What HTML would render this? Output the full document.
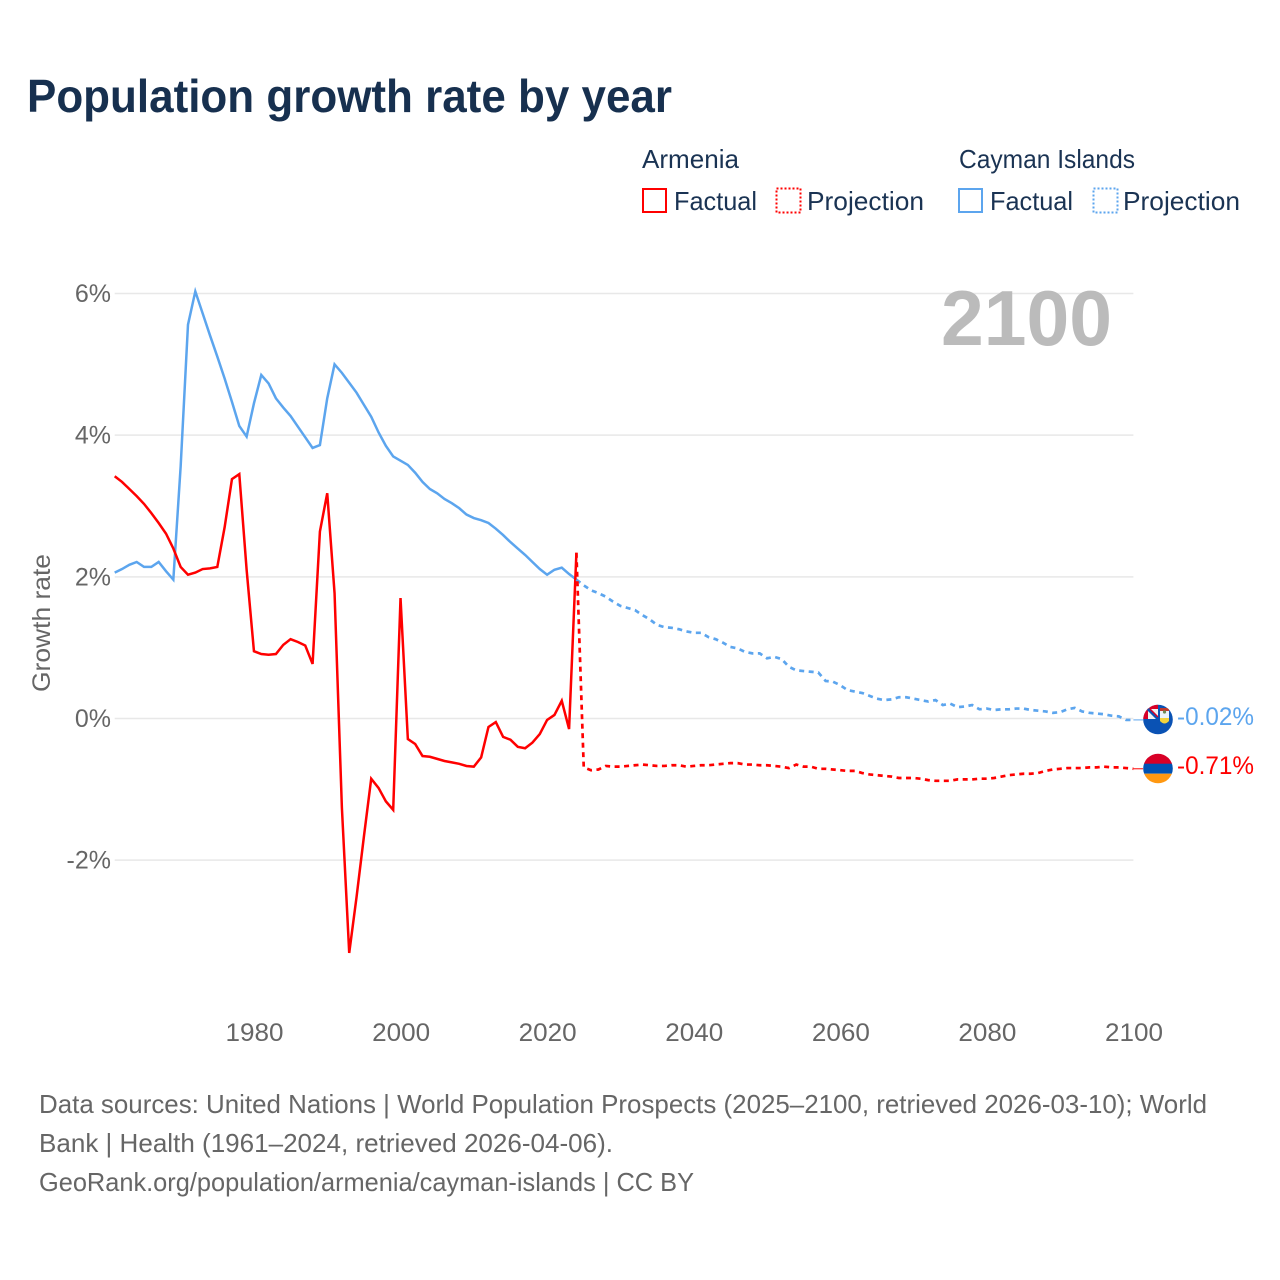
<!DOCTYPE html>
<html lang="en">
<head>
<meta charset="utf-8">
<title>Population growth rate by year</title>
<style>
html,body{margin:0;padding:0;background:#fff;}
svg{display:block;}
text{font-family:"Liberation Sans",sans-serif;}
</style>
</head>
<body>
<svg id="chart" xmlns="http://www.w3.org/2000/svg" width="1280" height="1280" viewBox="0 0 1280 1280">
  <rect x="0" y="0" width="1280" height="1280" fill="#fff"/>
  <text x="27" y="112" font-size="46" font-weight="700" fill="#17304f" textLength="645" lengthAdjust="spacingAndGlyphs">Population growth rate by year</text>

  <g font-size="26" fill="#1a3353">
    <text x="642" y="168" textLength="97" lengthAdjust="spacingAndGlyphs">Armenia</text>
    <text x="959" y="168" textLength="176" lengthAdjust="spacingAndGlyphs">Cayman Islands</text>
    <rect x="643" y="189" width="23" height="23" fill="none" stroke="#ff0000" stroke-width="2"/>
    <text x="674" y="210" textLength="83" lengthAdjust="spacingAndGlyphs">Factual</text>
    <rect x="776.5" y="188.5" width="24" height="24" fill="none" stroke="#ff0000" stroke-width="2" stroke-dasharray="2 2"/>
    <text x="807" y="210" textLength="117" lengthAdjust="spacingAndGlyphs">Projection</text>
    <rect x="959" y="189" width="23" height="23" fill="none" stroke="#5ca5ee" stroke-width="2"/>
    <text x="990" y="210" textLength="83" lengthAdjust="spacingAndGlyphs">Factual</text>
    <rect x="1093.5" y="188.5" width="24" height="24" fill="none" stroke="#5ca5ee" stroke-width="2" stroke-dasharray="2 2"/>
    <text x="1123" y="210" textLength="117" lengthAdjust="spacingAndGlyphs">Projection</text>
  </g>

  <g id="grid"></g>
  <g id="y-ticks"></g>
  <g id="x-ticks"></g>

  <text transform="translate(50,692) rotate(-90)" x="0" y="0" font-size="25" fill="#666" textLength="138" lengthAdjust="spacingAndGlyphs">Growth rate</text>
  <text x="941" y="345" font-size="78" font-weight="700" fill="#bbbbbb" textLength="171" lengthAdjust="spacingAndGlyphs">2100</text>

  <g id="series"></g>

  <defs>
    <clipPath id="clip-cayman"><circle cx="1158" cy="719.5" r="14.8"/></clipPath>
    <clipPath id="clip-armenia"><circle cx="1158" cy="768.5" r="14.8"/></clipPath>
  </defs>
  <g clip-path="url(#clip-cayman)">
    <rect x="1143" y="704" width="30" height="31" fill="#0a52b4"/>
    <rect x="1143" y="704" width="15" height="15" fill="#f2f2f2"/>
    <rect x="1143" y="704" width="15" height="5" fill="#d80027"/>
    <rect x="1143" y="704" width="5" height="15" fill="#d80027"/>
    <path d="M1148 709 L1158 719" stroke="#0a52b4" stroke-width="3"/>
    <path d="M1150 709 L1158 717" stroke="#d80027" stroke-width="1.5"/>
    <rect x="1160" y="708" width="9" height="3" fill="#c0392b"/>
    <rect x="1160" y="711" width="9" height="7" fill="#eaf2fa"/>
    <path d="M1160 718 h9 v3 q-4.5 5 -9 0 z" fill="#f2d23c"/>
    <circle cx="1164.5" cy="712" r="1.6" fill="#6d8a55"/>
  </g>
  <g clip-path="url(#clip-armenia)">
    <rect x="1143" y="753" width="30" height="11" fill="#d80027"/>
    <rect x="1143" y="763.7" width="30" height="10" fill="#0052b4"/>
    <rect x="1143" y="773.7" width="30" height="11" fill="#ff9811"/>
  </g>

  <text x="1177" y="725" font-size="25" fill="#5ca5ee" textLength="77" lengthAdjust="spacingAndGlyphs">-0.02%</text>
  <text x="1177" y="774" font-size="25" fill="#ff0000" textLength="77" lengthAdjust="spacingAndGlyphs">-0.71%</text>

  <g font-size="26" fill="#666">
    <text x="39" y="1113" textLength="1168" lengthAdjust="spacingAndGlyphs">Data sources: United Nations | World Population Prospects (2025–2100, retrieved 2026-03-10); World</text>
    <text x="39" y="1152" textLength="574" lengthAdjust="spacingAndGlyphs">Bank | Health (1961–2024, retrieved 2026-04-06).</text>
    <text x="39" y="1191" textLength="655" lengthAdjust="spacingAndGlyphs">GeoRank.org/population/armenia/cayman-islands | CC BY</text>
  </g>
</svg>
<script>
var factualStartYear = 1961;
var projectionStartYear = 2024;
var yTickValues = [6, 4, 2, 0, -2];
var yTickLabels = ["6%", "4%", "2%", "0%", "-2%"];
var xTickYears = [1980, 2000, 2020, 2040, 2060, 2080, 2100];
var xTickLabels = ["1980", "2000", "2020", "2040", "2060", "2080", "2100"];

var armeniaFactual = [
  3.42, 3.34, 3.24, 3.14, 3.03, 2.90, 2.76, 2.61, 2.40,
  2.14, 2.03, 2.06, 2.11, 2.12, 2.14, 2.70, 3.38, 3.45, 2.10,
  0.95, 0.91, 0.90, 0.91, 1.04, 1.12, 1.08, 1.03, 0.77, 2.64,
  3.18, 1.77, -1.26, -3.31, -2.52, -1.67, -0.85, -0.98, -1.17, -1.29,
  1.70, -0.29, -0.36, -0.53, -0.54, -0.57, -0.60, -0.62, -0.64, -0.67,
  -0.68, -0.55, -0.12, -0.05, -0.26, -0.30, -0.40, -0.42, -0.34, -0.22,
  -0.02, 0.05, 0.25, -0.15, 2.34
];
var caymanFactual = [
  2.06, 2.11, 2.17, 2.21, 2.14, 2.14, 2.21, 2.08, 1.96,
  3.56, 5.56, 6.03, 5.72, 5.41, 5.11, 4.80, 4.47, 4.13, 3.98,
  4.45, 4.85, 4.73, 4.52, 4.39, 4.27, 4.12, 3.97, 3.82, 3.86,
  4.52, 5.00, 4.88, 4.74, 4.60, 4.43, 4.26, 4.04, 3.85, 3.70,
  3.64, 3.58, 3.47, 3.34, 3.24, 3.18, 3.10, 3.04, 2.97, 2.88,
  2.83, 2.80, 2.76, 2.68, 2.59, 2.49, 2.40, 2.31, 2.21, 2.11,
  2.03, 2.10, 2.13, 2.04, 1.96
];
var armeniaProjection = [
  2.34, -0.69, -0.73, -0.72, -0.67, -0.68,
  -0.68, -0.67, -0.66, -0.65, -0.66, -0.67, -0.67, -0.66, -0.66, -0.68,
  -0.67, -0.66, -0.66, -0.65, -0.64, -0.63, -0.63, -0.65, -0.65, -0.66,
  -0.66, -0.67, -0.68, -0.70, -0.65, -0.68, -0.68, -0.71, -0.71, -0.72,
  -0.73, -0.74, -0.74, -0.77, -0.79, -0.80, -0.81, -0.82, -0.84, -0.84,
  -0.84, -0.85, -0.87, -0.88, -0.88, -0.88, -0.86, -0.86, -0.86, -0.85,
  -0.85, -0.84, -0.82, -0.80, -0.79, -0.78, -0.78, -0.77, -0.74, -0.72,
  -0.71, -0.70, -0.70, -0.70, -0.69, -0.69, -0.68, -0.69, -0.69, -0.70,
  -0.71
];
var caymanProjection = [
  1.96, 1.88, 1.81, 1.77, 1.72, 1.65,
  1.59, 1.56, 1.53, 1.46, 1.40, 1.32, 1.29, 1.28, 1.26, 1.23,
  1.21, 1.21, 1.15, 1.12, 1.07, 1.01, 0.99, 0.94, 0.92, 0.92,
  0.85, 0.87, 0.84, 0.73, 0.68, 0.67, 0.66, 0.65, 0.53, 0.52,
  0.47, 0.40, 0.38, 0.36, 0.32, 0.28, 0.26, 0.27, 0.30, 0.30,
  0.28, 0.26, 0.24, 0.26, 0.19, 0.21, 0.16, 0.17, 0.19, 0.13,
  0.14, 0.12, 0.13, 0.13, 0.14, 0.14, 0.12, 0.11, 0.10, 0.08,
  0.09, 0.13, 0.15, 0.10, 0.08, 0.07, 0.06, 0.04, 0.03, -0.02,
  -0.02
];

var SVG_NS = "http://www.w3.org/2000/svg";
function xScale(year) { return 114.7 + (year - 1961) * (1133.4 - 114.7) / (2100 - 1961); }
function yScale(value) { return 718.5 - value * 70.83; }

function seriesPath(values, startYear) {
  var d = "";
  for (var i = 0; i < values.length; i++) {
    d += (i === 0 ? "M" : "L") + xScale(startYear + i).toFixed(2) + " " + yScale(values[i]).toFixed(2);
  }
  return d;
}

var gridGroup = document.getElementById("grid");
var yTickGroup = document.getElementById("y-ticks");
var xTickGroup = document.getElementById("x-ticks");
var seriesGroup = document.getElementById("series");

yTickValues.forEach(function (value, i) {
  var line = document.createElementNS(SVG_NS, "line");
  
  
  line.setAttribute("x1", xScale(1961));
  line.setAttribute("x2", xScale(2100));
  line.setAttribute("y1", yScale(value));
  line.setAttribute("y2", yScale(value));
  line.setAttribute("stroke", "#e8e8e8");
  line.setAttribute("stroke-width", "1.5");
  gridGroup.appendChild(line);

  var label = document.createElementNS(SVG_NS, "text");
  
  
  label.setAttribute("x", 111);
  label.setAttribute("y", yScale(value) + 8.5);
  label.setAttribute("text-anchor", "end");
  label.setAttribute("font-size", "25");
  label.setAttribute("fill", "#666");
  label.textContent = yTickLabels[i];
  yTickGroup.appendChild(label);
});

xTickYears.forEach(function (year, i) {
  var label = document.createElementNS(SVG_NS, "text");
  
  
  label.setAttribute("x", xScale(year) + 0.6);
  label.setAttribute("y", 1041);
  label.setAttribute("text-anchor", "middle");
  label.setAttribute("font-size", "25");
  label.setAttribute("fill", "#666");
  label.setAttribute("textLength", "58");
  label.setAttribute("lengthAdjust", "spacingAndGlyphs");
  label.textContent = xTickLabels[i];
  xTickGroup.appendChild(label);
});

var caymanFactualLine = document.createElementNS(SVG_NS, "path");


caymanFactualLine.setAttribute("d", seriesPath(caymanFactual, factualStartYear));
caymanFactualLine.setAttribute("fill", "none");
caymanFactualLine.setAttribute("stroke", "#5ca5ee");
caymanFactualLine.setAttribute("stroke-width", "2.5");
seriesGroup.appendChild(caymanFactualLine);

var armeniaFactualLine = document.createElementNS(SVG_NS, "path");


armeniaFactualLine.setAttribute("d", seriesPath(armeniaFactual, factualStartYear));
armeniaFactualLine.setAttribute("fill", "none");
armeniaFactualLine.setAttribute("stroke", "#ff0000");
armeniaFactualLine.setAttribute("stroke-width", "2.5");
seriesGroup.appendChild(armeniaFactualLine);

var caymanProjectionLine = document.createElementNS(SVG_NS, "path");


caymanProjectionLine.setAttribute("d", seriesPath(caymanProjection, projectionStartYear));
caymanProjectionLine.setAttribute("fill", "none");
caymanProjectionLine.setAttribute("stroke", "#5ca5ee");
caymanProjectionLine.setAttribute("stroke-width", "2.7");
caymanProjectionLine.setAttribute("stroke-dasharray", "5 4.5");
seriesGroup.appendChild(caymanProjectionLine);

var armeniaProjectionLine = document.createElementNS(SVG_NS, "path");


armeniaProjectionLine.setAttribute("d", seriesPath(armeniaProjection, projectionStartYear));
armeniaProjectionLine.setAttribute("fill", "none");
armeniaProjectionLine.setAttribute("stroke", "#ff0000");
armeniaProjectionLine.setAttribute("stroke-width", "2.7");
armeniaProjectionLine.setAttribute("stroke-dasharray", "5 4.5");
seriesGroup.appendChild(armeniaProjectionLine);

var caymanConnector = document.createElementNS(SVG_NS, "line");


caymanConnector.setAttribute("x1", xScale(2100));
caymanConnector.setAttribute("x2", 1143);
caymanConnector.setAttribute("y1", yScale(caymanProjection[caymanProjection.length - 1]));
caymanConnector.setAttribute("y2", yScale(caymanProjection[caymanProjection.length - 1]));
caymanConnector.setAttribute("stroke", "#5ca5ee");
caymanConnector.setAttribute("stroke-width", "1");
seriesGroup.appendChild(caymanConnector);

var armeniaConnector = document.createElementNS(SVG_NS, "line");


armeniaConnector.setAttribute("x1", xScale(2100));
armeniaConnector.setAttribute("x2", 1143);
armeniaConnector.setAttribute("y1", yScale(armeniaProjection[armeniaProjection.length - 1]));
armeniaConnector.setAttribute("y2", yScale(armeniaProjection[armeniaProjection.length - 1]));
armeniaConnector.setAttribute("stroke", "#ff0000");
armeniaConnector.setAttribute("stroke-width", "1");
seriesGroup.appendChild(armeniaConnector);
</script>
</body>
</html>
